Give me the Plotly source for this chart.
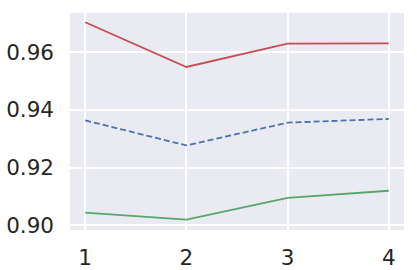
import plotly.graph_objects as go

x = [1, 2, 3, 4]
red_vals = [0.9704, 0.9549, 0.9630, 0.9631]
blue_vals = [0.9364, 0.9277, 0.9356, 0.9369]
green_vals = [0.9044, 0.9020, 0.9095, 0.9120]
y_ticks = [0.90, 0.92, 0.94, 0.96]
y_tick_text = ["0.90", "0.92", "0.94", "0.96"]
x_ticks = [1, 2, 3, 4]

fig = go.Figure()
fig.add_trace(go.Scatter(x=x, y=red_vals, mode="lines",
                         line=dict(color="#C44E52", width=1.8)))
fig.add_trace(go.Scatter(x=x, y=blue_vals, mode="lines",
                         line=dict(color="#4C72B0", width=1.8, dash="6px,3px")))
fig.add_trace(go.Scatter(x=x, y=green_vals, mode="lines",
                         line=dict(color="#55A868", width=1.8)))

font = dict(family="DejaVu Sans", size=21.5, color="#262626")
fig.update_layout(
    width=417, height=270,
    margin=dict(l=70, r=13, t=13, b=40),
    paper_bgcolor="white", plot_bgcolor="#EAEAF2",
    showlegend=False,
    font=font,
    xaxis=dict(range=[0.85, 4.15], tickvals=x_ticks, ticktext=[str(v) for v in x_ticks],
               showgrid=True, gridcolor="white", gridwidth=1.8, zeroline=False,
               ticks="", showline=False, tickfont=font, ticklabelstandoff=12,
               automargin=False),
    yaxis=dict(range=[0.8984, 0.9736], tickvals=y_ticks, ticktext=y_tick_text,
               showgrid=True, gridcolor="white", gridwidth=1.8, zeroline=False,
               ticks="", showline=False, tickfont=font, ticklabelstandoff=15,
               automargin=False),
)
fig.write_html("out.html")
